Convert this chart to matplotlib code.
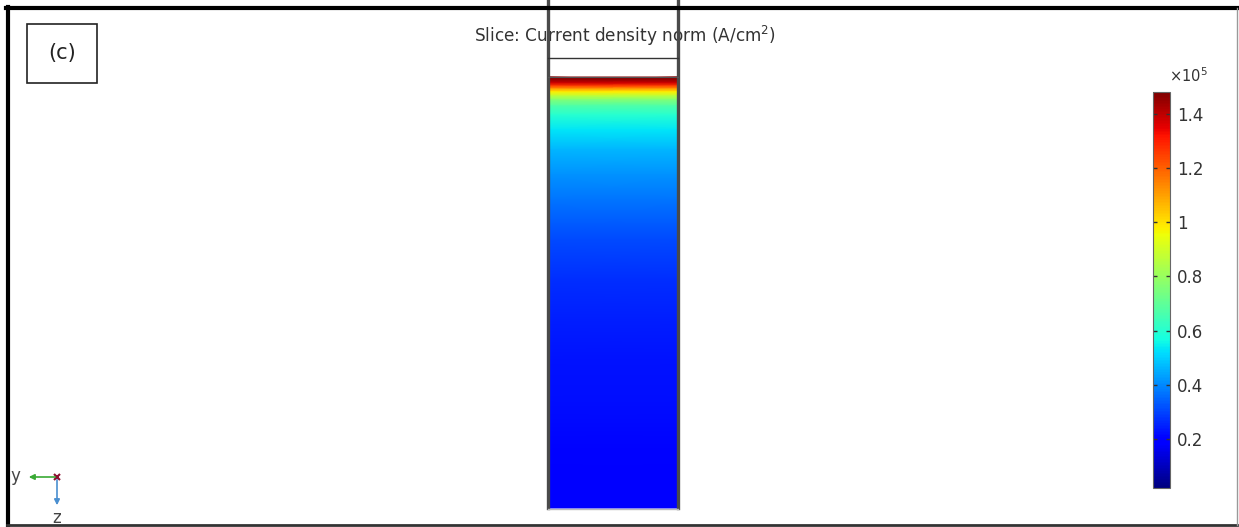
import numpy as np
import matplotlib.pyplot as plt
from matplotlib.colors import Normalize

# profil de la densité de courant le long de la colonne (px depuis le haut, en 1e5 A/cm2)
depth = [77, 80, 83, 86, 89, 92, 96, 100, 106, 115, 130, 150, 175, 200, 240, 280, 320, 360, 400, 450, 508]
jnorm = [1.48, 1.45, 1.38, 1.25, 1.10, 0.98, 0.86, 0.76, 0.67, 0.60, 0.53, 0.46, 0.41, 0.37,
         0.31, 0.27, 0.245, 0.23, 0.22, 0.205, 0.195]
cb_ticks = [0.2, 0.4, 0.6, 0.8, 1.0, 1.2, 1.4]
cb_labels = ['0.2', '0.4', '0.6', '0.8', '1', '1.2', '1.4']
vmin, vmax = 0.02, 1.48

W, H = 1239, 527
fig = plt.figure(figsize=(W / 100, H / 100), dpi=100)
ax = fig.add_axes([0, 0, 1, 1])
ax.set_xlim(0, W)
ax.set_ylim(H, 0)
ax.axis('off')

# la colonne
x_col = [548, 678]
C = np.repeat(np.array(jnorm)[:, None], 2, axis=1)
mesh = ax.pcolormesh(x_col, depth, C, cmap='jet', norm=Normalize(vmin, vmax),
                     shading='gouraud', zorder=2)
ax.plot([548, 548], [0, 508], color='#4a4a4a', lw=2.4, zorder=5)
ax.plot([678, 678], [0, 508], color='#4a4a4a', lw=2.4, zorder=5)
ax.plot([548, 678], [58, 58], color='#333333', lw=1.0, zorder=5)
ax.plot([548, 678], [77, 77], color='#555555', lw=0.8, zorder=5)
ax.plot([548, 678], [508.5, 508.5], color='#bbbbbb', lw=1.0, zorder=5)

ax.text(625, 36, 'Slice: Current density norm (A/cm$^2$)', ha='center', va='center',
        fontsize=12.2, color='#333333', zorder=3)

# cadre
ax.plot([7.5, 7.5], [7, 525], color='black', lw=3, zorder=6)
ax.plot([6, 1237], [8, 8], color='black', lw=3, zorder=6)
ax.plot([7, 1237], [525, 525], color='#333333', lw=2, zorder=6)
ax.plot([1236.5, 1236.5], [8, 525], color='#999999', lw=1, zorder=6)

# étiquette (c)
ax.add_patch(plt.Rectangle((27, 24), 70, 59, fill=False, ec='#222222', lw=1.2, zorder=4))
ax.text(62, 53, '(c)', ha='center', va='center', fontsize=15, color='#222222')

# trièdre
ax.annotate('', xy=(26, 477), xytext=(58, 477),
            arrowprops=dict(arrowstyle='-|>', color='#3aaa35', lw=1.2, mutation_scale=8))
ax.annotate('', xy=(57, 508), xytext=(57, 477),
            arrowprops=dict(arrowstyle='-|>', color='#4a8fd0', lw=1.2, mutation_scale=8))
ax.plot(57, 477, marker='x', color='#8b1030', ms=5, mew=1.5)
ax.text(15, 476, 'y', ha='center', va='center', fontsize=12, color='#444444')
ax.text(57, 518, 'z', ha='center', va='center', fontsize=12, color='#444444')

# barre de couleurs
cax = fig.add_axes([1153 / W, (H - 488) / H, 17 / W, 396 / H])
cb = fig.colorbar(mesh, cax=cax)
cb.set_ticks(cb_ticks)
cb.set_ticklabels(cb_labels)
cb.outline.set_edgecolor('#666666')
cb.outline.set_linewidth(0.8)
cax.yaxis.set_ticks_position('both')
cax.tick_params(axis='y', direction='in', length=3, width=1, color='#333333',
                labelsize=12, labelcolor='#333333', pad=5, labelleft=False, labelright=True)
fig.text(1169 / W, 1 - 76 / H, r'$\times$10$^5$', fontsize=10.5, color='#333333',
         ha='left', va='center')

fig.savefig('out.png', dpi=100)
